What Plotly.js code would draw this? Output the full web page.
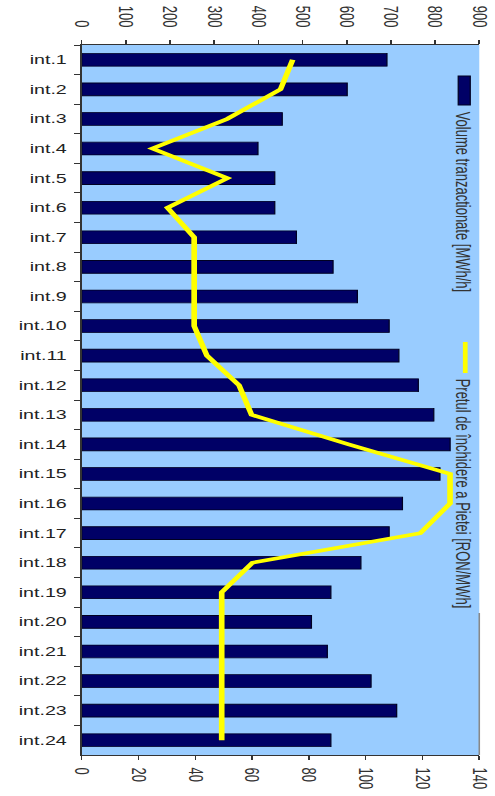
<!DOCTYPE html>
<html>
<head>
<meta charset="utf-8">
<script src="https://cdn.plot.ly/plotly-3.0.1.min.js"></script>
<style>
html,body{margin:0;padding:0;background:#fff;overflow:hidden;}
#chart{width:315px;height:796px;transform:scaleX(1.5714);transform-origin:0 0;}
</style>
</head>
<body>
<div id="chart"></div>
<script>
const categories = ["int.1","int.2","int.3","int.4","int.5","int.6","int.7","int.8","int.9","int.10","int.11","int.12",
  "int.13","int.14","int.15","int.16","int.17","int.18","int.19","int.20","int.21","int.22","int.23","int.24"];
const volumeMWh = [691,601,454,399,437,437,486,569,624,696,718,762,797,834,811,726,696,632,564,520,556,655,713,564];
const priceRON = [74.3,70.0,51.2,24.9,51.3,30.2,39.6,39.6,39.6,39.6,44.1,55.4,59.8,94.0,129.7,129.7,119.2,60.1,49.3,49.3,49.3,49.3,49.3,49.3];
const volumeTicks = [0,100,200,300,400,500,600,700,800,900];
const priceTicks = [0,20,40,60,80,100,120,140];
const volumeLabel = "Volume tranzactionate [MWh/h]";
const priceLabel = "Pretul de închidere a Pietei [RON/MWh]";

const FONT = "Liberation Sans, Arial, sans-serif";
// The reference image is stretched horizontally; draw narrower and stretch with CSS.
const S = 1.5714;
const W = 495, H = 796;           // final picture size
const Lp = 82.3, Rp = 479, Tp = 45, Bp = 755;  // plot area in final pixels
const Wu = 315;                   // unscaled width
const layoutMargin = {l: Lp / S, r: Wu - Rp / S, t: Tp, b: H - Bp};
const px = v => (v - Lp) / (Rp - Lp);
const py = v => (Bp - v) / (Bp - Tp);

const data = [
  {
    type: "bar", orientation: "h", name: volumeLabel,
    x: volumeMWh, y: categories, xaxis: "x", yaxis: "y",
    marker: {color: "#000066", line: {color: "#000022", width: 0.8}}
  },
  {
    type: "scatter", mode: "lines", name: priceLabel,
    x: priceRON, y: categories, xaxis: "x2", yaxis: "y",
    line: {color: "#FFFF00", width: 3.6}
  }
];

const axisCommon = {
  showgrid: false, zeroline: false, showline: true, linecolor: "#333", linewidth: 1,
  ticks: "outside", ticklen: 4, tickcolor: "#333", tickwidth: 1,
  tickangle: 90, tickfont: {family: FONT, size: 13, color: "#333"}
};

const layout = {
  width: Wu, height: H,
  margin: layoutMargin,
  paper_bgcolor: "#ffffff", plot_bgcolor: "#99CCFF",
  showlegend: false,
  bargap: 0.57,
  xaxis: Object.assign({}, axisCommon, {
    side: "top", range: [0, 900], tickvals: volumeTicks, ticklabelstandoff: 8
  }),
  xaxis2: Object.assign({}, axisCommon, {
    overlaying: "x", side: "bottom", range: [0, 140], tickvals: priceTicks, ticklabelstandoff: 5
  }),
  yaxis: {
    type: "category", autorange: false, range: [categories.length - 0.5, -0.5],
    showgrid: false, zeroline: false,
    showline: true, linecolor: "#333", linewidth: 1,
    ticks: "outside", ticklen: 4, tickcolor: "#333", tickwidth: 1, tickson: "boundaries",
    ticklabelstandoff: 6,
    tickfont: {family: FONT, size: 12.5, color: "#222"}
  },
  shapes: [
    {type: "rect", xref: "paper", yref: "paper", x0: px(458), x1: px(470), y0: py(105), y1: py(76),
      fillcolor: "#000066", line: {color: "#000022", width: 0.8}},
    {type: "line", xref: "paper", yref: "paper", x0: px(465), x1: px(465), y0: py(373), y1: py(342),
      line: {color: "#FFFF00", width: 3}},
    {type: "line", xref: "paper", yref: "paper", x0: 1, x1: 1, y0: 0, y1: py(613),
      line: {color: "#888", width: 1}}
  ],
  annotations: [
    {xref: "paper", yref: "paper", x: px(464), y: py(202), xanchor: "center", yanchor: "middle",
      text: volumeLabel, textangle: 90, showarrow: false,
      font: {family: FONT, size: 13, color: "#333"}},
    {xref: "paper", yref: "paper", x: px(464), y: py(494), xanchor: "center", yanchor: "middle",
      text: priceLabel, textangle: 90, showarrow: false,
      font: {family: FONT, size: 13, color: "#333"}}
  ]
};

Plotly.newPlot("chart", data, layout, {displayModeBar: false, staticPlot: true});
</script>
</body>
</html>
